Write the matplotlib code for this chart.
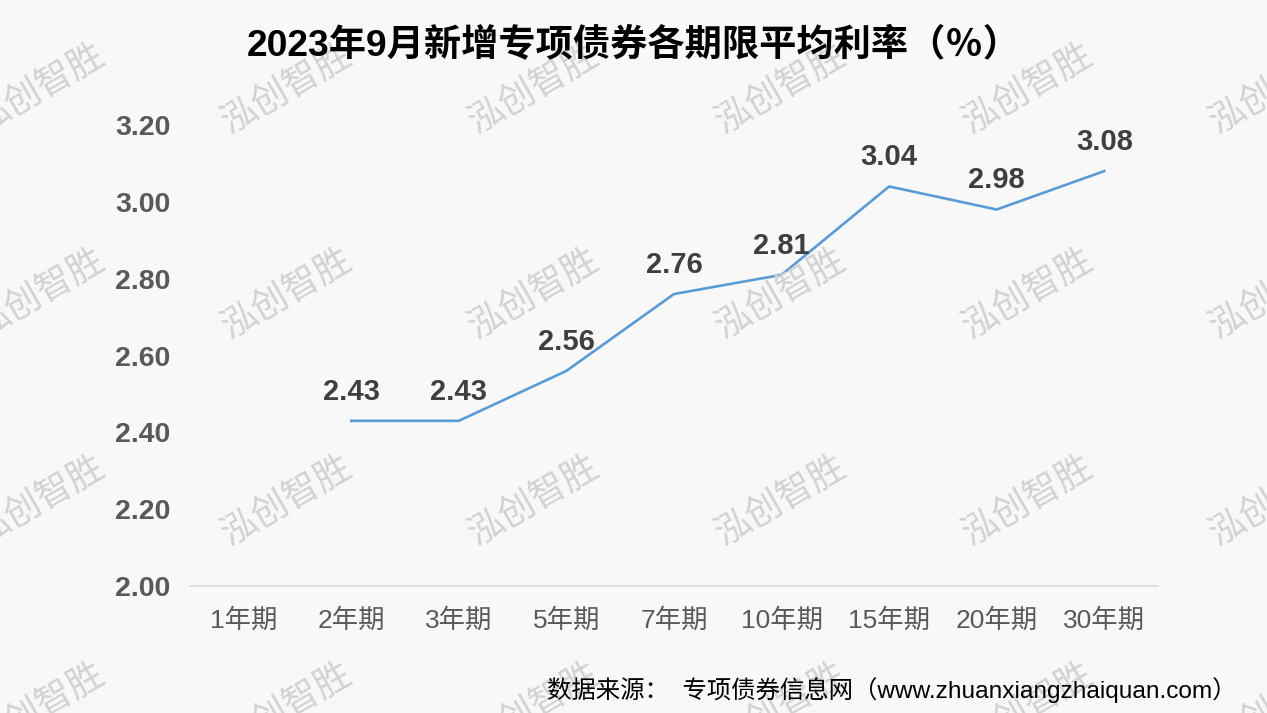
import matplotlib
matplotlib.use("Agg")
import matplotlib.pyplot as plt
import numpy as np

categories = ["1年期", "2年期", "3年期", "5年期", "7年期", "10年期", "15年期", "20年期", "30年期"]
rates = [np.nan, 2.43, 2.43, 2.56, 2.76, 2.81, 3.04, 2.98, 3.08]
y_ticks = [2.00, 2.20, 2.40, 2.60, 2.80, 3.00, 3.20]
title = "2023年9月新增专项债券各期限平均利率（％）"
source = "数据来源：  专项债券信息网（www.zhuanxiangzhaiquan.com）"
watermark = "泓创智胜"

FAM = ["Liberation Sans", "Noto Sans CJK SC", "DejaVu Sans"]
plt.rcParams["font.family"] = FAM

W, H = 1267, 713
fig = plt.figure(figsize=(W / 100, H / 100), dpi=100)
bg = "#f8f8f8"
fig.patch.set_facecolor(bg)

# watermarks
for yc in [88, 293, 500, 707]:
    for xc in [40, 287, 534, 781, 1028, 1275]:
        fig.text(xc / W, 1 - yc / H, watermark, fontsize=26, color="#d2d2d2",
                 rotation=30, ha="center", va="center", zorder=0,
                 family=["Noto Sans CJK SC", "DejaVu Sans"])

ax = fig.add_axes([190 / W, 1 - 586 / H, (1158 - 190) / W, (586 - 125) / H])
ax.set_facecolor("none")
x = np.arange(len(categories))
ax.plot(x, rates, color="#5B9BD5", lw=1.9, zorder=3)
for xi, v in zip(x, rates):
    if not np.isnan(v):
        ax.annotate(f"{v:.2f}", (xi, v), xytext=(0, 11), textcoords="offset points",
                    ha="center", va="bottom", fontsize=21, fontweight="bold",
                    color="#3f3f3f")

ax.set_xlim(-0.5, len(categories) - 0.5)
ax.set_ylim(2.0, 3.2)
ax.set_yticks(y_ticks)
ax.set_yticklabels([f"{t:.2f}" for t in y_ticks], fontsize=20.5, fontweight="bold", color="#595959")
ax.set_xticks(x)
ax.set_xticklabels(categories, fontsize=19, color="#595959")
ax.tick_params(axis="both", length=0)
ax.tick_params(axis="y", pad=14)
ax.tick_params(axis="x", pad=16)
for s in ["top", "right", "left"]:
    ax.spines[s].set_visible(False)
ax.spines["bottom"].set_color("#d9d9d9")
ax.spines["bottom"].set_linewidth(1.2)

fig.text(634 / W, 1 - 45 / H, title, fontsize=26.8, fontweight="bold", color="#000000",
         ha="center", va="center")
fig.text(1237 / W, 1 - 690 / H, source, fontsize=17.6, color="#000000",
         ha="right", va="center")

fig.savefig("out.png", dpi=100, facecolor=bg)
